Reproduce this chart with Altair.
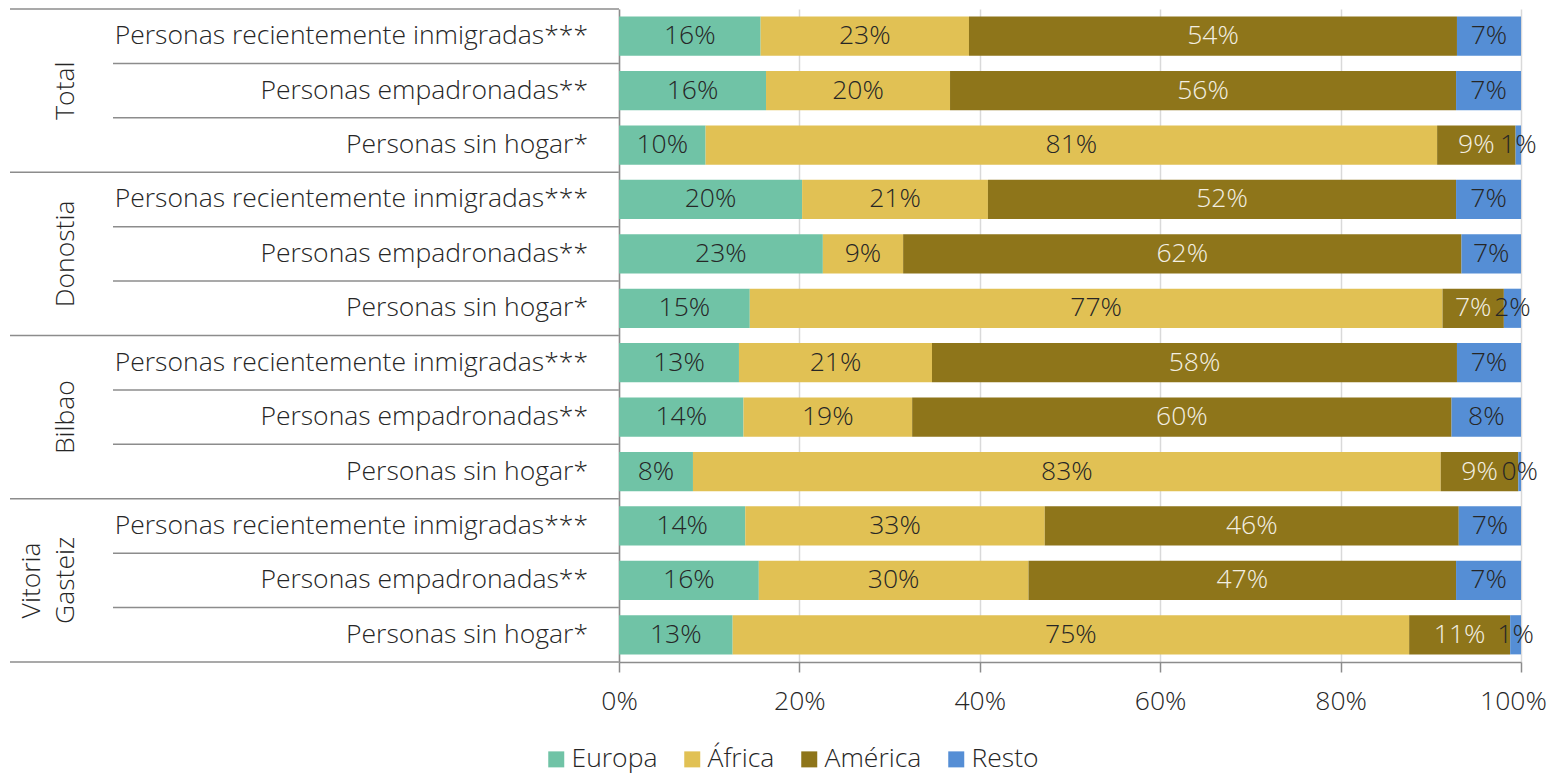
import altair as alt
import pandas as pd

groups = ["Total", "Donostia", "Bilbao", "Vitoria Gasteiz"]
subs = ["Personas recientemente inmigradas***", "Personas empadronadas**", "Personas sin hogar*"]
regions = ["Europa", "África", "América", "Resto"]
colors = ["#70C3A6", "#E1C154", "#8E751A", "#558ED5"]

europa = [15.7, 16.3, 9.6, 20.3, 22.6, 14.5, 13.3, 13.8, 8.2, 14.0, 15.5, 12.6]
africa = [23.1, 20.4, 81.1, 20.6, 8.9, 76.8, 21.4, 18.7, 82.9, 33.2, 29.9, 75.0]
america = [54.1, 56.1, 8.7, 51.9, 61.9, 6.8, 58.2, 59.8, 8.6, 45.9, 47.4, 11.2]
resto = [7.1, 7.2, 0.6, 7.2, 6.6, 1.9, 7.1, 7.7, 0.3, 6.9, 7.2, 1.2]
tick_values = [0, 20, 40, 60, 80, 100]

series = [europa, africa, america, resto]
FONT = "Open Sans"
FW = 300
FS = 26.5
DARK = "#262626"
LINE = "#8c8c8c"

keys, rows, long = [], [], []
for gi, g in enumerate(groups):
    for si, s in enumerate(subs):
        idx = gi * 3 + si
        k = f"{g}|{s}"
        keys.append(k)
        rows.append({"key": k, "group": g, "sub": s, "pos": si,
                     "multi": " " in g})
        for ri, r in enumerate(regions):
            long.append({"key": k, "region": r, "order": ri, "value": series[ri][idx]})

df = pd.DataFrame(long)
rows_df = pd.DataFrame(rows)

H = 653
LW = 611
# ---------- right panel: bars ----------
yr = alt.Y("key:N", scale=alt.Scale(domain=keys, paddingInner=0.28, paddingOuter=0.14),
           axis=alt.Axis(labels=False, ticks=False, title=None, grid=False,
                         domainColor=LINE, domainWidth=1.5))
base = alt.Chart(df).transform_stack(
    stack="value", groupby=["key"], as_=["x0", "x1"], sort=[alt.SortField("order")]
).transform_calculate(
    mid="(datum.x0 + datum.x1) / 2",
    label="format(datum.value, '.0f') + '%'"
)

bars = base.mark_bar().encode(
    x=alt.X("x0:Q", scale=alt.Scale(domain=[0, 100], nice=False),
            axis=alt.Axis(values=tick_values, labelExpr="datum.value + '%'", grid=True,
                          gridColor="#d9d9d9", gridWidth=1.5, domainColor=LINE,
                          domainWidth=1.5, tickColor=LINE, tickSize=10, tickWidth=1.5,
                          labelFontSize=FS, labelFont=FONT, labelFontWeight=FW,
                          labelColor=DARK, labelPadding=16, labelFlush=False,
                          labelOverlap=False, title=None,
                          labelOffset={"condition": {"test": "datum.value == 100",
                                                     "value": -8}, "value": 0})),
    x2="x1:Q",
    y=yr,
    color=alt.Color("region:N", scale=alt.Scale(domain=regions, range=colors),
                    legend=alt.Legend(orient="none", legendX=535, legendY=737,
                                      direction="horizontal", title=None,
                                      symbolType="square", symbolSize=256,
                                      symbolStrokeWidth=0, labelFontSize=FS,
                                      labelFont=FONT, labelFontWeight=FW,
                                      labelColor=DARK, labelLimit=0,
                                      columnPadding=21, labelOffset=2)),
)

labels = base.mark_text(fontSize=FS, font=FONT, fontWeight=FW, align="center",
                        baseline="middle").encode(
    x=alt.X("mid:Q"),
    y=alt.Y("key:N"),
    text="label:N",
    color=alt.condition("datum.region == 'América'", alt.value("#f3efe2"), alt.value(DARK)),
)

right = alt.layer(bars, labels).properties(width=902, height=H)

# ---------- left panel: labels ----------
ly = alt.Y("key:N", scale=alt.Scale(domain=keys, padding=0), axis=None)
lb = alt.Chart(rows_df)
sub_text = lb.mark_text(align="right", baseline="middle", fontSize=FS, font=FONT,
                        fontWeight=FW, color=DARK).encode(y=ly, x=alt.value(580), text="sub:N")
group_single = lb.transform_filter("datum.pos == 1 && !datum.multi").mark_text(
    angle=270, align="center", baseline="bottom", fontSize=FS, font=FONT, fontWeight=FW,
    color=DARK
).encode(y=ly, x=alt.value(72), text="group:N")
group_multi = lb.transform_filter("datum.pos == 1 && datum.multi").mark_text(
    angle=270, align="center", baseline="bottom", fontSize=FS, font=FONT, fontWeight=FW,
    color=DARK, lineBreak=" ", lineHeight=34
).encode(y=ly, x=alt.value(38), text="group:N")

ly0 = alt.Y("key:N", scale=alt.Scale(domain=keys, padding=0), axis=None, bandPosition=0)
ly1 = alt.Y("key:N", scale=alt.Scale(domain=keys, padding=0), axis=None, bandPosition=1)
grp_rules = lb.transform_filter("datum.pos == 0").mark_rule(color=LINE, strokeWidth=1.5).encode(
    y=ly0, x=alt.value(2), x2=alt.value(LW))
sub_rules = lb.transform_filter("datum.pos > 0").mark_rule(color=LINE, strokeWidth=1.5).encode(
    y=ly0, x=alt.value(105), x2=alt.value(LW))
bottom_rule = lb.transform_filter(f"datum.key == '{keys[-1]}'").mark_rule(
    color=LINE, strokeWidth=1.5).encode(y=ly1, x=alt.value(2), x2=alt.value(LW))

left = alt.layer(grp_rules, sub_rules, bottom_rule, sub_text, group_single,
                 group_multi).properties(width=LW, height=H)

chart = alt.hconcat(left, right, spacing=0, bounds="flush").properties(padding=0).configure_view(
    stroke=None
).resolve_scale(y="independent")

chart.save("out.html", embed_options={"renderer": "svg", "actions": False})
